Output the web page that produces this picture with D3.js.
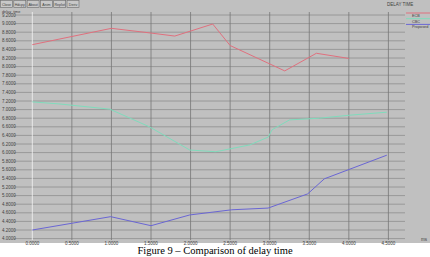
<!DOCTYPE html>
<html>
<head>
<meta charset="utf-8">
<script src="https://cdn.jsdelivr.net/npm/d3@7"></script>
<style>
  body { margin: 0; background: #fff; }
  svg { display: block; }
  .tiny { font-family: "Liberation Sans", sans-serif; font-size: 4.5px; fill: #404040; }
</style>
</head>
<body>
<div id="chart"></div>
<script>
// x axis ticks and y axis ticks
var xTicks = [0, 0.5, 1.0, 1.5, 2.0, 2.5, 3.0, 3.5, 4.0, 4.5];
var yTicks = d3.range(0, 27).map(function (i) { return +(4.0 + i * 0.2).toFixed(1); });

var seriesNames = ["ECB", "CBC", "Proposed"];
var seriesColors = ["#e0707e", "#7fdcbc", "#6a66d4"];

// ECB
var ecbX = [0, 1.0, 1.5, 1.8, 2.28, 2.5, 3.19, 3.59, 4.0];
var ecbY = [8.51, 8.89, 8.78, 8.71, 8.99, 8.49, 7.90, 8.31, 8.19];
// CBC
var cbcX = [0, 0.35, 0.98, 1.48, 1.99, 2.32, 2.75, 2.98, 3.03, 3.25, 3.63, 4.01, 4.48];
var cbcY = [7.18, 7.13, 7.01, 6.60, 6.06, 6.02, 6.18, 6.36, 6.53, 6.76, 6.80, 6.87, 6.94];
// Proposed
var propX = [0, 0.99, 1.5, 1.99, 2.52, 2.98, 3.48, 3.69, 4.48];
var propY = [4.20, 4.51, 4.30, 4.55, 4.67, 4.71, 5.04, 5.39, 5.94];

var buttons = ["Close", "Hdcpy", "About", "Anim", "Replot", "Deriv"];

var width = 430, height = 257;
var svg = d3.select("#chart").append("svg")
  .attr("width", width)
  .attr("height", height);

// gray window
svg.append("rect").attr("x", 0).attr("y", 0).attr("width", width).attr("height", 243)
  .attr("fill", "#c0c0c0");

var x = d3.scaleLinear().domain([0, 4.5]).range([32.3, 388.4]);
var y = d3.scaleLinear().domain([4.0, 9.2]).range([238.6, 15]);

//horizontal grid + labels
yTicks.forEach(function (v) {
  svg.append("line")
    .attr("x1", 14).attr("x2", 405)
    .attr("y1", y(v)).attr("y2", y(v))
    .attr("stroke", "#8e8e8e").attr("stroke-width", 0.8);
  svg.append("text").attr("class", "tiny")
    .attr("x", 2).attr("y", y(v) + 1.5)
    .text(v.toFixed(4));
});

//vertical grid + labels
xTicks.forEach(function (v) {
  svg.append("line")
    .attr("x1", x(v)).attr("x2", x(v))
    .attr("y1", 12).attr("y2", 240)
    .attr("stroke", v === 0 ? "#f4f4f4" : "#767676").attr("stroke-width", 0.8);
  svg.append("text").attr("class", "tiny")
    .attr("x", x(v)).attr("y", 244.5)
    .attr("text-anchor", "middle")
    .text(v.toFixed(4));
});
svg.append("text").attr("class", "tiny").attr("x", 421).attr("y", 241).text("ms");

// buttons at top
var bx = 0.5;
buttons.forEach(function (b) {
  var w = 12;
  svg.append("rect").attr("x", bx).attr("y", 0.5).attr("width", w).attr("height", 7)
    .attr("fill", "#c8c8c8").attr("stroke", "#6a6a6a").attr("stroke-width", 0.6);
  svg.append("text").attr("class", "tiny").attr("x", bx + w / 2).attr("y", 5.5)
    .attr("text-anchor", "middle").style("font-size", "3.6px").text(b);
  bx += w + 1.3;
});
svg.append("text").attr("class", "tiny").attr("x", 2).attr("y", 13).style("font-size", "3.8px").text("delay_time");
svg.append("text").attr("class", "tiny").attr("x", 387).attr("y", 5.5).text("DELAY TIME");

var line = d3.line()
  .x(function (d) { return x(d[0]); })
  .y(function (d) { return y(d[1]); });

var allX = [ecbX, cbcX, propX], allY = [ecbY, cbcY, propY];
allX.forEach(function (xs, i) {
  var pts = xs.map(function (v, j) { return [v, allY[i][j]]; });
  svg.append("path")
    .attr("d", line(pts))
    .attr("fill", "none")
    .attr("stroke", seriesColors[i])
    .attr("stroke-width", 1);
});

// legend
seriesNames.forEach(function (n, i) {
  var ly = 13 + i * 5.7;
  svg.append("line").attr("x1", 406).attr("x2", 430).attr("y1", ly).attr("y2", ly)
    .attr("stroke", seriesColors[i]).attr("stroke-width", 1);
  svg.append("text").attr("class", "tiny").attr("x", 412).attr("y", ly + 3.8)
    .style("font-size", "3.8px").text(n);
});

// caption
svg.append("text")
  .attr("x", 215).attr("y", 253.5)
  .attr("text-anchor", "middle")
  .style("font-family", "'Liberation Serif', serif")
  .style("font-size", "10.5px")
  .attr("fill", "#000")
  .text("Figure 9 \u2013 Comparison of delay time");
</script>
</body>
</html>
